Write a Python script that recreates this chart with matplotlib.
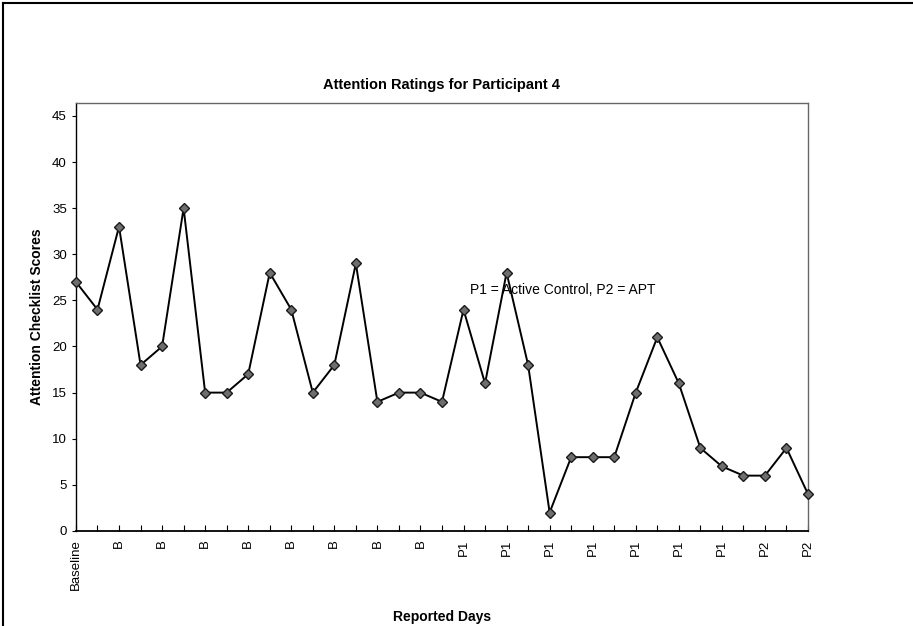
import numpy as np
import matplotlib.pyplot as plt
from matplotlib.lines import Line2D

# attention checklist scores, one per reported day
scores = [27, 24, 33, 18, 20, 35, 15, 15, 17, 28, 24, 15, 18, 29, 14, 15, 15, 14,
          24, 16, 28, 18, 2, 8, 8, 8, 15, 21, 16, 9, 7, 6, 6, 9, 4]
# labels shown on every other day
day_labels = ["Baseline", "B", "B", "B", "B", "B", "B", "B", "B",
              "P1", "P1", "P1", "P1", "P1", "P1", "P1", "P2", "P2"]
y_ticks = [0, 5, 10, 15, 20, 25, 30, 35, 40, 45]

plt.rcParams['font.family'] = ['Liberation Sans', 'DejaVu Sans']

fig = plt.figure(figsize=(9.13, 6.26), dpi=100)
ax = fig.add_axes([0.0832, 0.1518, 0.8018, 0.6837])

x = np.arange(len(scores))
ax.plot(x, scores, color="black", linewidth=1.4, marker="D", markersize=5,
        markerfacecolor="#6e6e6e", markeredgecolor="#1a1a1a", markeredgewidth=1.0,
        clip_on=False, zorder=3)

ax.set_xlim(0, len(scores) - 1)
ax.set_ylim(0, 46.4)
ax.set_yticks(y_ticks)
ax.set_yticklabels([str(v) for v in y_ticks], fontsize=9.5)
ax.set_xticks(x)
ax.set_xticklabels([day_labels[i // 2] if i % 2 == 0 else "" for i in x],
                   rotation=90, fontsize=9.5)
ax.tick_params(axis="x", direction="in", length=4, width=0.8, pad=6)
ax.tick_params(axis="y", direction="out", length=3, width=0.8)

for side in ["top", "right"]:
    ax.spines[side].set_color("#666666")
    ax.spines[side].set_linestyle((0, (1, 1)))
    ax.spines[side].set_linewidth(1.0)
ax.spines["left"].set_linewidth(1.0)
ax.spines["bottom"].set_linewidth(1.3)

ax.set_title("Attention Ratings for Participant 4", fontsize=10.5, fontweight="bold", pad=10)
ax.set_ylabel("Attention Checklist Scores", fontsize=10, fontweight="bold", labelpad=6)
ax.set_xlabel("Reported Days", fontsize=10, fontweight="bold", labelpad=14)

ax.text(18.3, 26.1, "P1 = Active Control, P2 = APT", fontsize=10, va="center", ha="left")

# outer chart frame (top and left edges visible in the scan)
fig.add_artist(Line2D([0.003, 0.003], [0, 0.995], transform=fig.transFigure,
                      color="black", linewidth=1.5))
fig.add_artist(Line2D([0.003, 1.0], [0.995, 0.995], transform=fig.transFigure,
                      color="black", linewidth=1.5))

fig.savefig("out.png", dpi=100)
